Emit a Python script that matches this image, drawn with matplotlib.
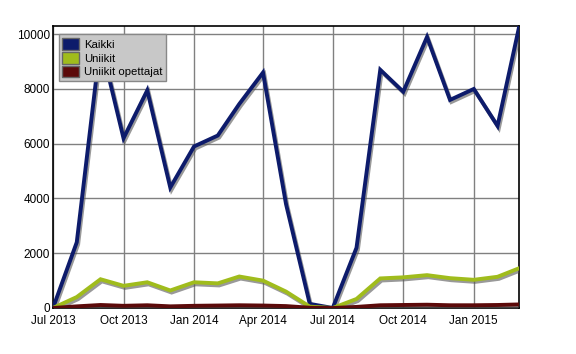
import matplotlib
matplotlib.use('Agg')
import matplotlib.pyplot as plt
import matplotlib.dates as mdates
import matplotlib.patheffects as pe
from matplotlib.patches import Patch
import numpy as np

months = np.arange('2013-07', '2015-04', dtype='datetime64[M]').astype('datetime64[D]')

kaikki = [0, 2400, 9700, 6200, 7950, 4400, 5900, 6300, 7450, 8600, 3800, 150,
          0, 2200, 8700, 7900, 9900, 7600, 8000, 6650, 10250]
uniikit = [0, 400, 1050, 810, 940, 640, 940, 900, 1150, 1000, 600, 50,
           0, 330, 1080, 1120, 1200, 1090, 1030, 1140, 1450]
opettajat = [0, 60, 110, 80, 100, 60, 80, 90, 100, 90, 70, 10,
             0, 40, 100, 110, 120, 100, 100, 110, 130]

labels = ['Kaikki', 'Uniikit', 'Uniikit opettajat']
colors = ['#0d1b6b', '#a0bc1c', '#5c0a0a']

plt.rcParams['font.family'] = ['Liberation Sans', 'DejaVu Sans']

fig = plt.figure(figsize=(5.76, 3.54), dpi=100)
ax = fig.add_axes([53 / 576, 1 - 308 / 354, (519 - 53) / 576, (308 - 26) / 354])

# thick lines with a soft grey drop shadow
shadow = [pe.SimpleLineShadow(offset=(1, -1.5), shadow_color='#555555', alpha=0.6), pe.Normal()]
for vals, c in zip([kaikki, uniikit, opettajat], colors):
    ax.plot(months, vals, color=c, lw=2.8, solid_joinstyle='miter', path_effects=shadow, zorder=3)

ax.set_xlim(months[0], months[-1])
ax.set_ylim(0, 10300)
ax.set_yticks([0, 2000, 4000, 6000, 8000, 10000])
ax.xaxis.set_major_locator(mdates.MonthLocator(bymonth=[1, 4, 7, 10]))
ax.xaxis.set_major_formatter(mdates.DateFormatter('%b %Y'))
ax.grid(True, color='#808080', lw=1)
ax.tick_params(length=0, labelsize=8.5)
ax.tick_params(axis='x', pad=5)
ax.tick_params(axis='y', pad=2)
for s in ax.spines.values():
    s.set_color('black')
    s.set_linewidth(1.2)

handles = [Patch(facecolor=c, edgecolor='#666666', lw=1) for c in colors]
leg = ax.legend(handles, labels, loc='upper left', bbox_to_anchor=(0.012, 0.97), fontsize=8.2,
                frameon=True, fancybox=False, handlelength=1.5, handleheight=1.2,
                handletextpad=0.4, labelspacing=0.2, borderpad=0.3, borderaxespad=0)
leg.get_frame().set_facecolor('#c8c8c8')
leg.get_frame().set_edgecolor('#888888')
leg.get_frame().set_alpha(1)
leg.set_zorder(5)

fig.savefig('out.png', dpi=100)
